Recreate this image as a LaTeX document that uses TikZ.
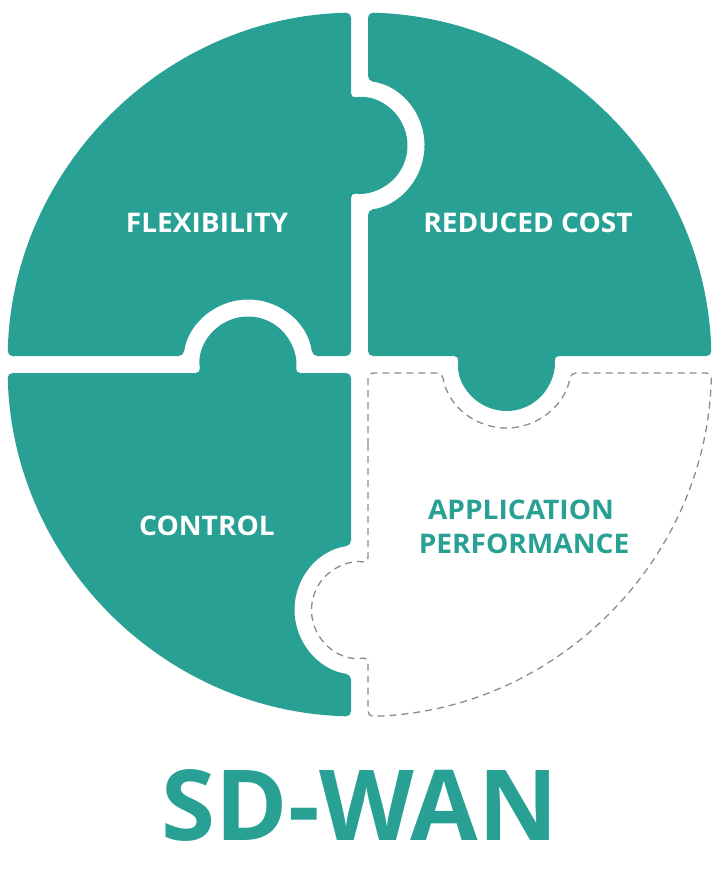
\documentclass[tikz,border=0pt]{standalone}
\usepackage{fontspec}
\setsansfont{Open Sans}
\newfontfamily\labfont{Open Sans}[FakeStretch=1.04]
\definecolor{teal1}{RGB}{40,161,148}
\definecolor{dashgray}{RGB}{140,140,140}
\begin{document}
\begin{tikzpicture}[x=1pt,y=1pt,
  piece/.style={fill=teal1, rounded corners=5pt},
  emptypiece/.style={draw=dashgray, line width=1.3pt, dash pattern=on 7pt off 5pt, rounded corners=5pt},
  lbl/.style={font=\labfont\bfseries\fontsize{27}{32}\selectfont, text=white, anchor=base, inner sep=0pt},
  lbl2/.style={lbl, text=teal1},
  title/.style={font=\sffamily\bfseries\fontsize{98}{110}\selectfont, text=teal1, anchor=base, inner sep=0pt}]
\useasboundingbox (0,0) rectangle (718,-883);
% top-left piece
\path[piece] (351,-50) -- (351,-98.26) arc[start angle=100.2, end angle=-100.2, radius=48]
  -- (351,-356) -- (312.44,-356) arc[start angle=7.51, end angle=172.49, radius=65]
  -- (7.6,-356) arc[start angle=178.62, end angle=91.38, radius=352] -- cycle;
% top-right piece
\path[piece] (368,-50) -- (368,-81.06) arc[start angle=82.49, end angle=-82.49, radius=65]
  -- (368,-356) -- (459.01,-356) arc[start angle=171.61, end angle=368.39, radius=48]
  -- (711.4,-356) arc[start angle=1.38, end angle=88.62, radius=352] -- cycle;
% bottom-left piece
\path[piece] (351,-450) -- (351,-545.56) arc[start angle=97.51, end angle=262.49, radius=65]
  -- (351,-716.4) arc[start angle=268.62, end angle=181.38, radius=352]
  -- (200.76,-373) arc[start angle=190.2, end angle=-10.2, radius=48]
  -- (351,-373) -- cycle;
% bottom-right piece (empty)
\path[emptypiece] (368,-450) -- (368,-373) -- (442.27,-373) arc[start angle=188.85, end angle=351.15, radius=65]
  -- (711.4,-373) arc[start angle=-1.38, end angle=-88.62, radius=352]
  -- (368,-657.24) arc[start angle=-79.8, end angle=-280.2, radius=48] -- cycle;
% labels
\node[lbl] (flex) at (207,-232.5) {FLEXIBILITY};
\node[lbl] (cost) at (528,-232.5) {REDUCED COST};
\node[lbl] (ctrl) at (207,-535.5) {CONTROL};
\node[lbl2] (app) at (521,-519.5) {APPLICATION};
\node[lbl2] (perf) at (524,-553.5) {PERFORMANCE};
\node[title] (sdwan) at (360,-840) {SD-WAN};
\end{tikzpicture}
\end{document}
